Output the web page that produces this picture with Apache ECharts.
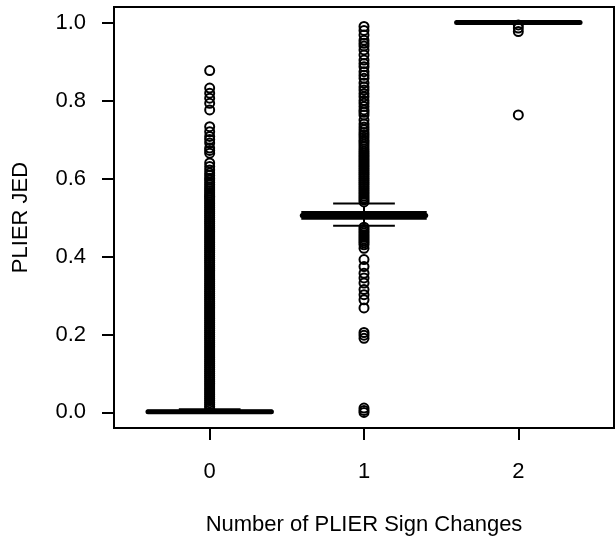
<!DOCTYPE html>
<html>
<head>
<meta charset="utf-8">
<script src="https://cdn.jsdelivr.net/npm/echarts@6/dist/echarts.min.js"></script>
<style>
  html, body { margin: 0; padding: 0; background: #fff; }
  #chart { width: 616px; height: 539px; }
</style>
</head>
<body>
<div id="chart"></div>
<script>
// groups (x positions) and their tick labels
const groupX = [0, 1, 2]
const groupLabels = ['0', '1', '2']
const yTicks = [0, 0.2, 0.4, 0.6, 0.8, 1.0]

// box statistics per group
const lowerWhisker = [0, 0.479, 1.0]
const q1 = [0, 0.497, 1.0]
const median = [0.002, 0.505, 1.0]
const q3 = [0.004, 0.514, 1.0]
const upperWhisker = [0.008, 0.536, 1.0]

// outliers (the solid columns are many overlapping points)
const outliers0 = [
  0.010, 0.015, 0.020, 0.025, 0.030, 0.035, 0.040, 0.045, 0.050, 0.055,
  0.060, 0.065, 0.070, 0.075, 0.080, 0.085, 0.090, 0.095, 0.100, 0.105,
  0.110, 0.115, 0.120, 0.125, 0.130, 0.135, 0.140, 0.145, 0.150, 0.155,
  0.160, 0.165, 0.170, 0.175, 0.180, 0.185, 0.190, 0.195, 0.200, 0.205,
  0.210, 0.215, 0.220, 0.225, 0.230, 0.235, 0.240, 0.245, 0.250, 0.255,
  0.260, 0.265, 0.270, 0.275, 0.280, 0.285, 0.290, 0.295, 0.300, 0.305,
  0.310, 0.315, 0.320, 0.325, 0.330, 0.335, 0.340, 0.345, 0.350, 0.355,
  0.360, 0.365, 0.370, 0.375, 0.380, 0.385, 0.390, 0.395, 0.400, 0.405,
  0.410, 0.415, 0.420, 0.425, 0.430, 0.435, 0.440, 0.445, 0.450, 0.455,
  0.460, 0.465, 0.470, 0.475, 0.480, 0.485, 0.490, 0.495, 0.500, 0.505,
  0.510, 0.515, 0.520, 0.525, 0.530, 0.535, 0.540, 0.545, 0.550, 0.554,
  0.558, 0.563, 0.568, 0.573, 0.578, 0.584, 0.590, 0.596, 0.601, 0.608,
  0.614, 0.622, 0.631, 0.640, 0.665, 0.672, 0.678, 0.691, 0.700, 0.708,
  0.720, 0.733, 0.776, 0.793, 0.806, 0.819, 0.832, 0.877
]
const outliers1 = [
  0.000, 0.005, 0.011, 0.190, 0.198, 0.205,
  0.268, 0.289, 0.302, 0.315, 0.332, 0.345, 0.357, 0.374, 0.392, 0.421,
  0.430, 0.435, 0.440, 0.445, 0.450, 0.455, 0.460, 0.465, 0.470, 0.475,
  0.540, 0.545, 0.550, 0.555, 0.560, 0.565, 0.570, 0.575, 0.580, 0.585,
  0.590, 0.595, 0.600, 0.605, 0.610, 0.615, 0.620, 0.625, 0.630, 0.635,
  0.640, 0.645, 0.650, 0.655, 0.660, 0.665, 0.670, 0.676, 0.682, 0.688,
  0.694, 0.699, 0.706, 0.712, 0.718, 0.725, 0.732, 0.740, 0.750, 0.763,
  0.770, 0.776, 0.785, 0.793, 0.800, 0.810, 0.818, 0.827, 0.835, 0.845,
  0.857, 0.865, 0.874, 0.887, 0.895, 0.904, 0.917, 0.930, 0.940, 0.947,
  0.955, 0.968, 0.980, 0.990
]
const outliers2 = [0.763, 0.977, 0.986, 0.994]

const fontFamily = '"Liberation Sans", Arial, sans-serif'
const boxHalf = 0.4
const stapleHalf = 0.2

const boxData = groupX.map((x, i) => [x, lowerWhisker[i], q1[i], median[i], q3[i], upperWhisker[i]])
const outlierData = []
;[outliers0, outliers1, outliers2].forEach((list, i) => {
  list.forEach(v => outlierData.push([groupX[i], v]))
})

function renderBox (params, api) {
  const x = api.value(0)
  const lw = api.value(1), b1 = api.value(2), med = api.value(3), b3 = api.value(4), uw = api.value(5)
  const p = (dx, v) => api.coord([x + dx, v])
  const line = (a, b, style) => ({ type: 'line', shape: { x1: a[0], y1: a[1], x2: b[0], y2: b[1] }, style })
  const thin = { stroke: '#000', lineWidth: 2 }
  const dashed = { stroke: '#000', lineWidth: 2, lineDash: [6, 4] }
  const tl = p(-boxHalf, b3)
  const br = p(boxHalf, b1)
  return {
    type: 'group',
    children: [
      line(p(0, b3), p(0, uw), dashed),
      line(p(0, b1), p(0, lw), dashed),
      line(p(-stapleHalf, uw), p(stapleHalf, uw), thin),
      line(p(-stapleHalf, lw), p(stapleHalf, lw), thin),
      { type: 'rect', shape: { x: tl[0], y: tl[1], width: br[0] - tl[0], height: br[1] - tl[1] },
        style: { fill: 'none', stroke: '#000', lineWidth: 2 } },
      line(p(-boxHalf, med), p(boxHalf, med), { stroke: '#000', lineWidth: 5, lineCap: 'round' })
    ]
  }
}

const chart = echarts.init(document.getElementById('chart'))
const option = {
  backgroundColor: '#fff',
  animation: false,
  textStyle: { fontFamily: fontFamily },
  grid: { left: 114, right: 2, top: 7, bottom: 111, outerBoundsMode: 'none',
    show: true, borderColor: '#000', borderWidth: 2 },
  xAxis: {
    type: 'value', min: -0.62, max: 2.62,
    splitLine: { show: false },
    axisLine: { show: true, onZero: false, lineStyle: { color: '#000', width: 2 } },
    axisTick: { show: true, customValues: groupX, length: 12, lineStyle: { color: '#000', width: 2 } },
    axisLabel: { customValues: groupX, formatter: v => groupLabels[groupX.indexOf(v)],
      fontSize: 22, color: '#000', margin: 33, fontFamily: fontFamily },
    name: 'Number of PLIER Sign Changes', nameLocation: 'middle', nameGap: 86,
    nameTextStyle: { fontSize: 22, color: '#000', fontFamily: fontFamily }
  },
  yAxis: {
    type: 'value', min: -0.04, max: 1.04,
    splitLine: { show: false },
    axisLine: { show: true, onZero: false, lineStyle: { color: '#000', width: 2 } },
    axisTick: { show: true, customValues: yTicks, length: 12, lineStyle: { color: '#000', width: 2 } },
    axisLabel: { customValues: yTicks, formatter: v => v.toFixed(1),
      fontSize: 22, color: '#000', margin: 28, fontFamily: fontFamily },
    name: 'PLIER JED', nameLocation: 'middle', nameGap: 82, nameRotate: 90,
    nameTextStyle: { fontSize: 22, color: '#000', fontFamily: fontFamily }
  },
  series: [
    {
      type: 'custom',
      renderItem: renderBox,
      encode: { x: 0, y: [1, 2, 3, 4, 5] },
      data: boxData,
      z: 2
    },
    {
      type: 'scatter',
      symbol: 'circle',
      symbolSize: 9,
      itemStyle: { color: 'rgba(0,0,0,0)', borderColor: '#000', borderWidth: 2, opacity: 1 },
      data: outlierData,
      z: 3
    }
  ]
}
chart.setOption(option)
</script>
</body>
</html>
